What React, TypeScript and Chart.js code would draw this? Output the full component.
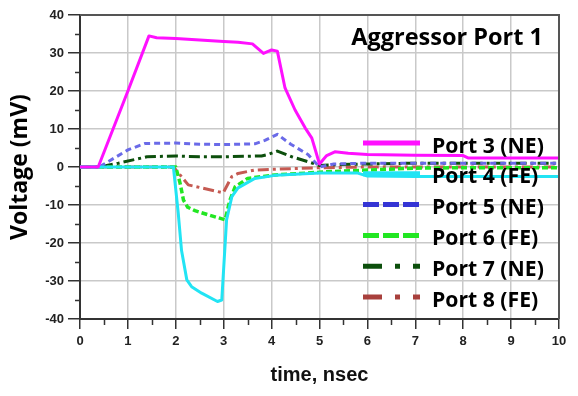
import React, { useEffect, useRef } from "react";
import { Chart, registerables } from "chart.js";

Chart.register(...registerables);

// ---- Data ----
const CHART_TITLE = "Aggressor Port 1";
const X_TITLE = "time, nsec";
const Y_TITLE = "Voltage (mV)";
const SERIES_NAMES = ["Port 3 (NE)", "Port 4 (FE)", "Port 5 (NE)", "Port 6 (FE)", "Port 7 (NE)", "Port 8 (FE)"];

const X_MIN = 0;
const X_MAX = 10;
const X_STEP = 1;
const Y_MIN = -40;
const Y_MAX = 40;
const Y_STEP = 10;

const port3T = [0, 0.38, 1.0, 1.44, 1.6, 2.0, 2.5, 3.0, 3.3, 3.6, 3.83, 4.0, 4.12, 4.28, 4.49, 4.7, 4.84, 5.0, 5.15, 5.32, 5.6, 6.0, 7.0, 8.0, 8.1, 9.0, 10.0];
const port3V = [0, 0, 20, 34.5, 34, 33.8, 33.4, 33, 32.8, 32.4, 29.9, 30.8, 30.5, 20.8, 15, 10.3, 7.6, 0.8, 3, 4, 3.6, 3.3, 3.1, 3.0, 2.4, 2.4, 2.4];

const port4T = [0, 1.95, 2.05, 2.12, 2.23, 2.33, 2.54, 2.87, 2.96, 3.06, 3.17, 3.3, 3.65, 4.07, 5.0, 5.8, 6.0, 7.0, 8.0, 9.0, 10.0];
const port4V = [0, 0, -12, -22, -29.7, -31.5, -33.2, -35.4, -35, -13.9, -7.8, -5.5, -3, -2.2, -1.6, -1.6, -2.4, -2.5, -2.5, -2.5, -2.5];

const port5T = [0, 0.4, 1.0, 1.36, 2.0, 2.5, 3.0, 3.65, 3.86, 4.12, 4.4, 4.76, 5.0, 5.3, 6.0, 7.0, 8.0, 9.0, 10.0];
const port5V = [0, 0, 4.5, 6.2, 6.3, 6.0, 5.9, 6.1, 7.0, 8.6, 6.0, 3.3, 0, 0.8, 1, 1, 1, 1, 1];

const port6T = [0, 2.0, 2.09, 2.16, 2.25, 2.4, 2.68, 3.03, 3.13, 3.24, 3.5, 4.07, 5.1, 6.0, 7.0, 8.0, 9.0, 10.0];
const port6V = [0, 0, -4.3, -8.7, -10.6, -11.5, -12.6, -13.9, -8.7, -5.2, -3, -2.1, -1.3, -0.8, -0.3, -0.2, -0.2, -0.2];

const port7T = [0, 0.4, 0.8, 1.4, 2.0, 2.5, 3.0, 3.79, 3.95, 4.12, 4.42, 4.76, 5.0, 5.3, 6.0, 7.0, 8.0, 9.0, 10.0];
const port7V = [0, 0, 1, 2.7, 2.9, 2.7, 2.7, 2.9, 3.4, 4.2, 2.7, 1.4, 0.4, 0.6, 0.8, 1, 1, 1, 1];

const port8T = [0, 1.95, 2.09, 2.26, 2.57, 2.99, 3.17, 3.3, 3.65, 4.0, 4.5, 5.0, 6.0, 7.0, 8.0, 9.0, 10.0];
const port8V = [0, 0, -2.1, -4.7, -5.6, -6.8, -2.5, -1.7, -0.8, -0.6, -0.4, -0.2, 0, 0, 0, 0, 0];

// ---- Styles ----
const COLORS = ["#ff10ff", "#22e4f4", "#6a6ae8", "#22e622", "#0c4f0c", "#c55a52"];
const LEGEND_COLORS = ["#ff10ff", "#22e4f4", "#3434d4", "#22e622", "#0c4f0c", "#a8403c"];
const DASHES: number[][] = [[], [], [6, 4], [6, 3], [11, 4, 3, 4], [11, 4, 3, 4]];
const LEGEND_DASHES: number[][] = [[], [], [16, 4], [16, 4], [19, 13, 5, 13], [19, 13, 5, 13]];

const SERIES_T = [port3T, port4T, port5T, port6T, port7T, port8T];
const SERIES_V = [port3V, port4V, port5V, port6V, port7V, port8V];

const decorPlugin = {
  id: "decor",
  afterDraw(chart: any) {
    const { ctx, chartArea: ca, scales } = chart;
    const xs = scales.x;
    const ys = scales.y;
    ctx.save();
    // top and right frame
    ctx.strokeStyle = "#555";
    ctx.lineWidth = 2;
    ctx.setLineDash([]);
    ctx.beginPath();
    ctx.moveTo(ca.left, ca.top);
    ctx.lineTo(ca.right, ca.top);
    ctx.lineTo(ca.right, ca.bottom);
    ctx.stroke();
    // minor ticks
    ctx.strokeStyle = "#333";
    ctx.lineWidth = 1.5;
    ctx.beginPath();
    for (let v = X_MIN + X_STEP / 2; v < X_MAX; v += X_STEP) {
      const px = Math.round(xs.getPixelForValue(v)) + 0.5;
      ctx.moveTo(px, ca.bottom);
      ctx.lineTo(px, ca.bottom + 6);
    }
    for (let v = Y_MIN + Y_STEP / 2; v < Y_MAX; v += Y_STEP) {
      const py = Math.round(ys.getPixelForValue(v)) + 0.5;
      ctx.moveTo(ca.left, py);
      ctx.lineTo(ca.left - 5, py);
    }
    ctx.stroke();
    // title inside plot
    ctx.fillStyle = "#000";
    ctx.font = 'bold 23.5px "Open Sans"';
    ctx.textAlign = "right";
    ctx.textBaseline = "alphabetic";
    ctx.fillText(CHART_TITLE, ca.right - 16, ca.top + 30);
    // legend inside plot
    const lx0 = ca.right - 196;
    const lx1 = ca.right - 139;
    const tx = ca.right - 127;
    ctx.font = 'bold 21.2px "Open Sans"';
    ctx.textAlign = "left";
    SERIES_NAMES.forEach((name, i) => {
      const y = ca.top + 128 + i * 30.8;
      ctx.strokeStyle = LEGEND_COLORS[i];
      ctx.lineWidth = 5;
      ctx.setLineDash(LEGEND_DASHES[i]);
      ctx.beginPath();
      ctx.moveTo(lx0, y);
      ctx.lineTo(lx1, y);
      ctx.stroke();
      ctx.setLineDash([]);
      ctx.fillStyle = "#000";
      ctx.fillText(name, tx, y + 9.5);
    });
    ctx.restore();
  },
};

export default function App() {
  const ref = useRef<HTMLCanvasElement | null>(null);

  useEffect(() => {
    document.body.style.margin = "0";
    const canvas = ref.current;
    if (!canvas) return;
    const datasets = SERIES_NAMES.map((name, i) => ({
      label: name,
      data: SERIES_T[i].map((t, j) => ({ x: t, y: SERIES_V[i][j] })),
      borderColor: COLORS[i],
      backgroundColor: COLORS[i],
      borderWidth: i === 3 ? 3.5 : 3,
      borderDash: DASHES[i],
      pointRadius: 0,
      fill: false,
      tension: 0,
      borderJoinStyle: "round" as const,
    }));
    const tickFont = { family: '"Liberation Sans", Arial, sans-serif', weight: "bold" as const, size: 13 };
    const chart = new Chart(canvas, {
      type: "line",
      data: { datasets },
      options: {
        animation: false,
        responsive: false,
        devicePixelRatio: 1,
        layout: { padding: { top: 15, right: 19, left: 0, bottom: 0 } },
        plugins: { legend: { display: false }, tooltip: { enabled: false }, title: { display: false } },
        scales: {
          x: {
            type: "linear",
            min: X_MIN,
            max: X_MAX,
            afterFit: (s: any) => {
              s.height = 77;
            },
            ticks: { stepSize: X_STEP, font: tickFont, color: "#222", padding: 5, maxRotation: 0 },
            grid: { color: "#c9c9c9", lineWidth: 1.5, tickColor: "#333", tickLength: 10, tickWidth: 1.5 },
            border: { display: true, color: "#333", width: 2 },
            title: {
              display: true,
              text: X_TITLE,
              font: { family: '"Liberation Sans", Arial, sans-serif', weight: "bold", size: 20 },
              color: "#111",
              padding: { top: 0, bottom: 9 },
            },
          },
          y: {
            type: "linear",
            min: Y_MIN,
            max: Y_MAX,
            afterFit: (s: any) => {
              s.width = 80;
            },
            ticks: { stepSize: Y_STEP, font: tickFont, color: "#222", padding: 4 },
            grid: { color: "#c9c9c9", lineWidth: 1.5, tickColor: "#333", tickLength: 12, tickWidth: 1.5 },
            border: { display: true, color: "#333", width: 2 },
            title: {
              display: true,
              text: Y_TITLE,
              font: { family: '"Open Sans", sans-serif', weight: "bold", size: 23 },
              color: "#000",
              padding: { top: 7, bottom: 0 },
            },
          },
        },
      },
      plugins: [decorPlugin],
    });
    return () => chart.destroy();
  }, []);

  return (
    <div style={{ width: 578, height: 396, position: "relative" }}>
      <canvas ref={ref} width={578} height={396} style={{ display: "block" }} />
    </div>
  );
}
